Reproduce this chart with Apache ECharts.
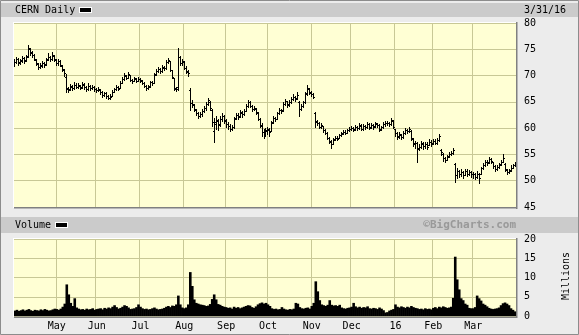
<!DOCTYPE html>
<html><head><meta charset="utf-8">
<script src="https://cdn.jsdelivr.net/npm/echarts@6/dist/echarts.min.js"></script>
<style>html,body{margin:0;padding:0;background:#ececec;}#c{width:579px;height:335px;}</style>
</head><body><div id="c"></div>
<script>
// ---- categories: trading days Apr 1 2015 .. Mar 31 2016 ----
const startDate = '2015-04-01';
const endDate = '2016-03-31';
const holidays = ['2015-04-03','2015-05-25','2015-07-03','2015-09-07','2015-11-26','2015-12-25','2016-01-01','2016-01-18','2016-02-15','2016-03-25'];
// ---- month tick labels ----
const monthKeys = ['2015-05','2015-06','2015-07','2015-08','2015-09','2015-10','2015-11','2015-12','2016-01','2016-02','2016-03'];
const monthLabels = ['May','Jun','Jul','Aug','Sep','Oct','Nov','Dec','16','Feb','Mar'];
// ---- axis ticks ----
const priceMin = 45, priceMax = 80, priceStep = 5;
const volMin = 0, volMax = 20, volStep = 5;
// ---- daily open (USD) ----
const openApr = [72.2,72.5,73.1,72.5,72.8,73.3,72.9,73.7,75.1,74.3,74.0,73.0,72.2,71.6,72.0,72.4,72.2,73.1,73.5,73.2,73.8];
const openMay = [73.0,72.4,72.7,71.9,71.1,69.8,67.5,67.4,67.9,67.7,68.2,67.9,68.1,67.8,68.3,67.8,67.5,68.0,67.6,67.8];
const openJun = [67.4,67.2,67.3,66.8,66.3,66.6,66.1,65.8,66.1,66.9,67.4,67.8,67.6,68.6,69.4,70.0,69.6,70.1,69.2,69.0,69.4,69.0];
const openJul = [69.3,69.0,68.6,68.0,67.6,68.0,68.7,68.6,70.3,70.9,71.2,70.9,71.5,71.5,72.6,72.7,71.0,69.5,67.5,67.8,73.5,72.4];
const openAug = [72.5,71.4,70.7,67.2,64.8,64.4,63.5,62.8,62.3,62.6,63.3,63.8,64.6,65.0,63.4,59.5,61.2,61.4,60.7,61.7,62.3];
const openSep = [61.3,60.7,60.4,59.9,60.3,61.9,62.5,62.3,62.9,62.7,63.3,64.2,64.9,64.2,63.6,63.7,62.9,61.7,60.5,59.3,58.9];
const openOct = [59.6,59.7,59.5,61.1,61.9,61.8,62.9,63.5,63.4,64.6,65.1,64.5,65.0,65.6,65.9,65.7,64.9,63.7,64.3,65.0,66.6,67.5];
const openNov = [66.7,66.4,62.8,61.3,60.9,60.3,60.4,59.6,59.0,58.2,57.4,57.0,57.8,58.2,58.1,58.7,59.0,59.3,59.1,59.6];
const openDec = [59.9,60.1,59.8,60.3,60.0,60.5,59.9,60.4,60.2,60.7,60.2,60.6,60.4,60.8,60.6,59.8,60.3,60.8,60.9,60.9,60.8,61.4];
const openJan = [59.8,59.0,58.5,58.7,58.4,59.0,59.6,59.4,59.5,58.0,57.1,57.2,56.2,56.4,57.0,56.6,57.0,56.8,57.3];
const openFeb = [57.1,57.6,57.2,57.8,55.9,55.1,54.3,54.0,54.7,55.0,55.3,53.2,51.0,51.8,51.2,51.6,51.1,51.8,51.3,51.6];
const openMar = [51.3,51.2,50.8,51.2,51.3,52.5,53.0,53.6,53.5,54.1,53.6,52.8,52.3,52.6,53.1,53.6,53.2,52.1,51.6,52.0,52.5,52.9];
// ---- daily close (USD) ----
const closeApr = [72.6,73.2,72.4,72.9,73.3,72.8,73.6,75.2,74.4,74.0,73.1,72.3,71.6,71.9,72.4,72.1,73.0,73.6,73.2,73.9,73.1];
const closeMay = [72.4,72.8,72.0,71.2,70.4,67.6,67.3,68.0,67.6,68.3,67.9,68.2,67.7,68.4,67.8,67.5,68.1,67.6,67.9,67.4];
const closeJun = [67.2,67.4,66.8,66.3,66.6,66.1,65.8,66.0,66.9,67.4,67.8,67.5,68.6,69.4,70.1,69.6,70.3,69.2,68.9,69.5,69.0,69.4];
const closeJul = [69.1,68.6,68.0,67.6,67.9,68.7,68.5,70.2,70.9,71.3,70.8,71.6,71.4,72.6,73.0,71.0,69.8,67.6,67.5,73.6,72.3,72.8];
const closeAug = [71.5,70.8,70.4,64.8,64.5,63.6,62.8,62.3,62.6,63.2,63.9,64.6,65.4,63.8,61.2,60.8,61.5,60.6,61.8,62.4,61.6];
const closeSep = [60.8,60.4,59.9,60.2,61.8,62.5,62.2,63.0,62.6,63.3,64.2,65.0,64.3,63.6,63.9,63.0,61.8,60.6,59.2,58.8,59.5];
const closeOct = [59.8,59.3,61.0,62.0,61.7,62.8,63.5,63.2,64.6,65.2,64.4,64.9,65.6,66.0,65.5,66.3,63.6,64.2,64.9,66.5,67.6,66.8];
const closeNov = [66.4,66.0,61.2,61.0,60.3,60.6,59.6,59.0,58.2,57.5,56.9,57.9,58.2,58.0,58.7,58.9,59.3,59.1,59.6,59.9];
const closeDec = [60.1,59.7,60.3,60.0,60.6,59.8,60.4,60.2,60.8,60.1,60.6,60.3,60.9,60.6,59.7,60.2,60.8,60.9,61.0,60.7,61.6,60.3];
const closeJan = [59.0,58.4,58.8,58.3,59.0,59.6,59.4,59.8,58.1,57.0,57.2,56.0,56.4,57.1,56.6,57.0,56.5,57.4,57.0];
const closeFeb = [57.6,57.2,57.8,58.5,55.4,54.3,54.0,54.6,55.0,55.3,55.8,51.0,51.8,51.2,51.6,51.0,51.9,51.3,51.7,51.2];
const closeMar = [51.2,50.8,51.3,50.5,52.4,53.0,53.6,53.4,54.2,53.7,52.8,52.2,52.6,53.0,53.6,54.3,52.2,51.6,51.9,52.5,52.9,53.1];
// ---- daily high ----
const highApr = [73.1,73.6,73.3,73.2,73.7,73.5,74.0,75.8,75.3,74.6,74.1,73.2,72.4,72.3,72.8,72.6,73.4,74.2,73.8,74.4,73.9];
const highMay = [73.2,73.1,72.9,72.1,71.3,70.3,67.9,68.4,68.2,68.7,68.5,68.6,68.3,68.8,68.5,68.0,68.5,68.2,68.3,68.0];
const highJun = [67.7,67.8,67.5,67.0,66.9,66.8,66.3,66.4,67.2,67.7,68.3,68.0,68.9,69.8,70.4,70.2,70.6,70.2,69.4,69.8,69.6,69.7];
const highJul = [69.6,69.2,68.7,68.2,68.3,69.0,69.0,70.4,71.3,71.7,71.4,72.0,71.9,72.9,73.4,72.8,71.1,69.6,67.9,75.2,73.8,73.2];
const highAug = [72.7,71.8,71.0,67.6,65.3,64.6,63.7,63.0,63.1,63.6,64.2,65.0,65.8,65.2,63.6,61.9,62.3,61.8,62.4,62.9,62.5];
const highSep = [61.8,61.2,60.7,60.6,62.1,62.9,62.8,63.5,63.2,63.7,64.5,65.4,65.1,64.4,64.3,63.8,63.1,61.9,60.9,59.9,60.0];
const highOct = [60.3,60.1,61.3,62.4,62.2,63.1,63.9,63.7,64.9,65.6,65.2,65.3,65.9,66.4,66.1,66.8,65.2,64.6,65.2,66.9,68.2,67.7];
const highNov = [67.0,66.6,63.0,61.6,61.1,60.9,60.5,59.8,59.2,58.3,57.7,58.2,58.6,58.5,58.9,59.3,59.6,59.6,59.9,60.2];
const highDec = [60.4,60.2,60.6,60.5,60.9,60.7,60.7,60.6,61.1,60.9,60.9,60.7,61.2,61.0,60.7,60.5,61.1,61.3,61.4,61.2,62.0,61.5];
const highJan = [59.9,59.2,59.3,58.9,59.4,60.0,59.9,60.2,59.6,58.2,57.6,57.4,57.0,57.6,57.3,57.4,57.3,57.9,57.7];
const highFeb = [58.0,57.9,58.1,58.9,56.0,55.2,54.5,54.9,55.4,55.7,56.2,53.4,52.4,52.1,52.2,51.9,52.3,52.2,52.1,51.9];
const highMar = [51.7,51.4,51.8,51.4,52.7,53.4,54.0,54.0,54.6,54.3,53.6,53.0,53.0,53.4,54.0,55.0,53.4,52.2,52.3,52.9,53.2,53.5];
// ---- daily low ----
const lowApr = [71.9,72.3,72.0,72.2,72.6,72.4,72.7,73.5,74.0,73.6,72.9,72.0,71.3,71.4,71.7,71.7,72.0,72.9,72.8,73.0,72.8];
const lowMay = [72.0,72.1,71.8,70.9,70.0,66.9,66.9,67.2,67.3,67.5,67.6,67.7,67.4,67.6,67.5,67.1,67.3,67.3,67.4,67.0];
const lowJun = [66.9,67.0,66.5,66.0,66.1,65.8,65.5,65.6,66.1,66.8,67.3,67.2,67.6,68.5,69.2,69.3,69.5,68.9,68.6,68.9,68.8,68.9];
const lowJul = [68.8,68.4,67.8,67.3,67.4,67.9,68.2,68.5,70.1,70.6,70.5,70.7,71.1,71.3,72.3,70.8,69.5,67.3,67.0,67.2,72.0,72.0];
const lowAug = [71.2,70.4,70.0,63.5,64.0,63.3,62.5,61.9,62.1,62.4,63.1,63.5,64.4,63.4,60.5,57.3,59.8,59.7,60.4,61.4,61.0];
const lowSep = [60.3,59.8,59.5,59.6,60.1,61.8,61.7,62.1,62.2,62.5,63.2,64.1,64.0,63.3,63.4,62.7,61.5,60.2,58.6,58.1,58.6];
const lowOct = [58.9,58.5,59.4,61.0,61.3,61.7,62.7,62.8,63.3,64.4,64.1,64.3,64.8,65.4,65.2,65.6,62.3,63.5,64.1,64.8,66.3,66.4];
const lowNov = [66.1,65.7,60.3,60.6,60.0,60.1,59.3,58.8,58.0,57.2,56.2,56.9,57.7,57.7,58.1,58.5,58.9,58.8,59.0,59.4];
const lowDec = [59.6,59.4,59.6,59.7,59.9,59.6,59.6,59.8,60.0,59.9,60.0,59.9,60.2,60.2,59.4,59.6,60.1,60.5,60.6,60.4,60.6,60.1];
const lowJan = [58.6,58.0,58.1,57.9,58.2,58.8,59.0,59.2,57.8,56.6,56.3,53.6,55.8,56.2,56.1,56.3,56.1,56.7,56.6];
const lowFeb = [57.0,56.9,57.0,57.6,54.9,53.8,53.6,53.9,54.5,54.9,55.1,49.8,50.6,50.7,50.9,50.5,51.0,50.9,51.1,50.8];
const lowMar = [50.6,50.3,50.5,49.5,51.2,52.3,52.8,52.9,53.4,53.3,52.5,51.8,52.0,52.5,53.0,53.5,51.9,51.2,51.4,51.8,52.4,52.8];
// ---- daily volume (millions) ----
const volApr = [1.4,1.6,1.3,1.5,1.7,1.4,1.6,1.8,1.5,1.3,1.6,1.5,1.4,1.7,1.5,1.8,1.6,1.4,1.5,1.7,1.9];
const volMay = [1.8,1.6,1.9,2.4,3.2,8.2,5.6,3.4,2.6,4.6,2.2,1.9,1.7,1.8,1.6,1.9,1.7,1.8,2.0,1.6];
const volJun = [1.8,1.9,2.0,1.7,2.1,1.9,2.2,2.0,2.4,2.8,2.3,1.9,2.1,2.4,2.8,2.6,2.2,1.8,1.9,2.0,2.3,3.0];
const volJul = [2.4,2.0,1.8,1.9,1.7,1.8,2.0,2.2,1.9,1.7,1.8,1.9,2.1,2.4,2.6,2.3,2.7,2.6,3.0,5.3,3.0,2.2];
const volAug = [2.0,2.2,3.0,11.4,7.8,4.3,3.4,3.2,3.0,2.9,2.8,2.6,2.7,3.1,4.4,5.6,4.3,3.1,2.9,2.6,2.4];
const volSep = [2.3,2.1,2.2,1.9,2.4,2.1,2.3,2.0,2.2,2.4,2.6,2.8,2.7,2.3,2.1,2.5,3.0,3.3,3.5,3.2,3.4];
const volOct = [3.0,2.6,2.0,1.8,1.9,1.7,1.8,2.3,1.9,1.7,1.6,1.8,1.7,1.9,3.4,3.2,2.3,2.0,1.9,2.1,2.2,1.9];
const volNov = [2.6,3.4,9.0,6.4,4.1,3.0,2.8,2.6,2.9,4.1,2.9,2.7,2.8,2.6,2.9,2.2,2.0,1.9,2.1,2.2];
const volDec = [2.4,3.4,2.5,2.2,2.4,2.1,2.3,2.2,2.5,2.0,1.9,2.1,2.0,1.8,2.2,1.9,1.5,0.9,1.0,1.4,1.6,1.8];
const volJan = [3.0,2.4,2.2,2.5,2.3,2.1,2.4,2.2,2.6,2.3,2.1,2.0,1.8,1.9,1.7,2.0,1.8,1.9,1.7];
const volFeb = [2.1,2.3,2.0,2.4,2.2,2.5,2.3,2.1,2.2,2.4,4.7,15.4,9.5,6.9,4.6,4.1,3.2,2.9,2.1,2.0];
const volMar = [2.0,2.3,5.3,4.6,4.0,3.2,2.9,2.5,2.1,1.9,1.8,1.9,2.0,2.2,2.8,3.3,3.5,3.2,2.8,2.0,1.6,1.2];

// ---- build tables ----
const dates = [];
for (let t = Date.parse(startDate + 'T00:00:00Z'); t <= Date.parse(endDate + 'T00:00:00Z'); t += 86400000) {
  const d = new Date(t), wd = d.getUTCDay(), s = d.toISOString().slice(0, 10);
  if (wd === 0 || wd === 6 || holidays.includes(s)) continue;
  dates.push(s);
}
const opens = [].concat(openApr, openMay, openJun, openJul, openAug, openSep, openOct, openNov, openDec, openJan, openFeb, openMar);
const closes = [].concat(closeApr, closeMay, closeJun, closeJul, closeAug, closeSep, closeOct, closeNov, closeDec, closeJan, closeFeb, closeMar);
const highs = [].concat(highApr, highMay, highJun, highJul, highAug, highSep, highOct, highNov, highDec, highJan, highFeb, highMar);
const lows = [].concat(lowApr, lowMay, lowJun, lowJul, lowAug, lowSep, lowOct, lowNov, lowDec, lowJan, lowFeb, lowMar);
const volumes = [].concat(volApr, volMay, volJun, volJul, volAug, volSep, volOct, volNov, volDec, volJan, volFeb, volMar);

const tickLabel = {};
monthKeys.forEach((k, j) => {
  const idx = dates.findIndex(d => d.startsWith(k));
  if (idx >= 0) tickLabel[idx] = monthLabels[j];
});
const isTick = (i) => tickLabel[i] !== undefined;

const ohlc = dates.map((d, i) => [i, highs[i], lows[i], opens[i], closes[i]]);

const FONT = '"DejaVu Sans Mono", monospace';
const GRIDC = '#c8c896';
const PLOTBG = '#ffffd4';

const chart = echarts.init(document.getElementById('c'), null, { renderer: 'canvas' });
const axisCommonX = {
  type: 'category', data: dates, boundaryGap: true,
  axisLine: { show: false }, axisTick: { show: false },
  splitLine: { show: true, interval: (i) => isTick(i), lineStyle: { color: GRIDC, width: 1 } }
};
const option = {
  backgroundColor: '#ececec',
  animation: false,
  grid: [
    { left: 14, top: 23, width: 502, height: 184, show: true, backgroundColor: PLOTBG, borderWidth: 0 },
    { left: 14, top: 239, width: 502, height: 77, show: true, backgroundColor: PLOTBG, borderWidth: 0 }
  ],
  xAxis: [
    Object.assign({}, axisCommonX, { gridIndex: 0, axisLabel: { show: false } }),
    Object.assign({}, axisCommonX, { gridIndex: 1, axisLabel: {
      show: true, interval: (i) => isTick(i), formatter: (v, i) => tickLabel[i] || '',
      fontFamily: FONT, fontSize: 10, color: '#000', margin: 5 } })
  ],
  yAxis: [
    { type: 'value', gridIndex: 0, position: 'right', min: priceMin, max: priceMax, interval: priceStep,
      axisLine: { show: false }, axisTick: { show: false },
      axisLabel: { fontFamily: FONT, fontSize: 10, color: '#000', margin: 8 },
      splitLine: { show: true, lineStyle: { color: GRIDC, width: 1 } } },
    { type: 'value', gridIndex: 1, position: 'right', min: volMin, max: volMax, interval: volStep,
      axisLine: { show: false }, axisTick: { show: false },
      axisLabel: { fontFamily: FONT, fontSize: 10, color: '#000', margin: 8 },
      splitLine: { show: true, lineStyle: { color: GRIDC, width: 1 } } }
  ],
  series: [
    {
      type: 'custom', xAxisIndex: 0, yAxisIndex: 0, data: ohlc,
      encode: { x: 0, y: [1, 2, 3, 4] },
      renderItem: function (params, api) {
        const i = api.value(0);
        const hi = api.coord([i, api.value(1)]);
        const lo = api.coord([i, api.value(2)]);
        const op = api.coord([i, api.value(3)]);
        const cl = api.coord([i, api.value(4)]);
        const x = Math.floor(hi[0]);
        return { type: 'group', children: [
          { type: 'rect', shape: { x: x, y: Math.round(hi[1]), width: 1, height: Math.max(1, Math.round(lo[1]) - Math.round(hi[1]) + 1) }, style: { fill: '#000' } },
          { type: 'rect', shape: { x: x - 1, y: Math.round(op[1]), width: 1, height: 1 }, style: { fill: '#000' } },
          { type: 'rect', shape: { x: x + 1, y: Math.round(cl[1]), width: 1, height: 1 }, style: { fill: '#000' } }
        ] };
      }
    },
    {
      type: 'bar', xAxisIndex: 1, yAxisIndex: 1, data: volumes,
      barWidth: 2.6, itemStyle: { color: '#000' }
    }
  ],
  graphic: [
    { type: 'rect', z: 0, silent: true, shape: { x: 1, y: 3, width: 577, height: 14 }, style: { fill: '#cbcbcb' } },
    { type: 'rect', z: 0, silent: true, shape: { x: 1, y: 217, width: 577, height: 16 }, style: { fill: '#cbcbcb' } },
    // plot bevels
    { type: 'rect', z: 10, silent: true, shape: { x: 14, y: 22, width: 502, height: 1 }, style: { fill: '#ffffff' } },
    { type: 'rect', z: 10, silent: true, shape: { x: 13, y: 22, width: 1, height: 186 }, style: { fill: '#ffffff' } },
    { type: 'rect', z: 10, silent: true, shape: { x: 14, y: 207, width: 503, height: 1.5 }, style: { fill: '#808080' } },
    { type: 'rect', z: 10, silent: true, shape: { x: 516, y: 22, width: 1.5, height: 187 }, style: { fill: '#808080' } },
    { type: 'rect', z: 10, silent: true, shape: { x: 14, y: 238, width: 502, height: 1 }, style: { fill: '#ffffff' } },
    { type: 'rect', z: 10, silent: true, shape: { x: 13, y: 238, width: 1, height: 79 }, style: { fill: '#ffffff' } },
    { type: 'rect', z: 10, silent: true, shape: { x: 14, y: 316.5, width: 503, height: 1.5 }, style: { fill: '#808080' } },
    { type: 'rect', z: 10, silent: true, shape: { x: 516, y: 238, width: 1.5, height: 80 }, style: { fill: '#808080' } },
    // frame
    { type: 'rect', z: 10, silent: true, shape: { x: 0.5, y: 0.5, width: 578, height: 334 }, style: { fill: null, stroke: '#8c8c8c', lineWidth: 1 } },
    // texts
    { type: 'text', z: 11, x: 15, y: 10, style: { text: 'CERN Daily', font: '10px ' + FONT, fill: '#000', verticalAlign: 'middle' } },
    { type: 'rect', z: 11, shape: { x: 79, y: 7, width: 13, height: 6 }, style: { fill: '#ffffff' } },
    { type: 'rect', z: 12, shape: { x: 80, y: 8, width: 11, height: 4 }, style: { fill: '#000' } },
    { type: 'text', z: 11, x: 524, y: 10, style: { text: '3/31/16', font: '10px ' + FONT, fill: '#000', verticalAlign: 'middle' } },
    { type: 'text', z: 11, x: 15, y: 225, style: { text: 'Volume', font: '10px ' + FONT, fill: '#000', verticalAlign: 'middle' } },
    { type: 'rect', z: 11, shape: { x: 55, y: 222, width: 13, height: 6 }, style: { fill: '#ffffff' } },
    { type: 'rect', z: 12, shape: { x: 56, y: 223, width: 11, height: 4 }, style: { fill: '#000' } },
    { type: 'text', z: 11, x: 516, y: 225, style: { text: '©BigCharts.com', font: 'bold 11px ' + FONT, fill: '#999999', align: 'right', verticalAlign: 'middle' } },
    { type: 'text', z: 11, x: 566, y: 276, rotation: Math.PI / 2, style: { text: 'Millions', font: '10px ' + FONT, fill: '#000', align: 'center', verticalAlign: 'middle' } }
  ]
};
chart.setOption(option);
</script>
</body></html>
